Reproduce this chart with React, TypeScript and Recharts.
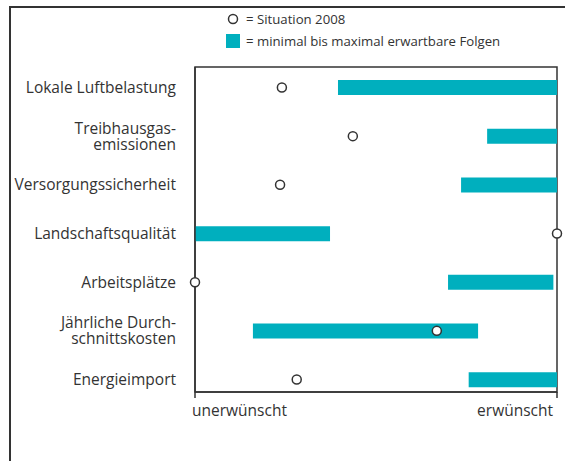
import React from "react";
import {
  ComposedChart,
  Bar,
  Line,
  XAxis,
  YAxis,
  Legend,
  ReferenceArea,
} from "recharts";

// Kategorien (mehrzeilige Beschriftung als Array)
const categories: string[][] = [
  ["Lokale Luftbelastung"],
  ["Treibhausgas-", "emissionen"],
  ["Versorgungssicherheit"],
  ["Landschaftsqualität"],
  ["Arbeitsplätze"],
  ["Jährliche Durch-", "schnittskosten"],
  ["Energieimport"],
];

// 0 = unerwünscht, 100 = erwünscht
const rangeMin = [39.5, 80.7, 73.5, 0, 69.9, 16, 75.6];
const rangeMax = [100, 100, 100, 37.3, 99, 78.2, 100];
const situation2008 = [24, 43.6, 23.5, 100, 0, 66.8, 28.1];

const xTickLabels = ["unerwünscht", "erwünscht"];
const xTicks = [0, 100];
const yDomain = [-0.42, 6.256];

const TEAL = "#00afbe";
const DARK = "#333333";
const FONT = "'Open Sans', sans-serif";

const data = categories.map((c, i) => ({
  idx: i,
  name: c.join(" "),
  range: [rangeMin[i], rangeMax[i]],
  now: situation2008[i],
}));

function CategoryTick(props: any) {
  const { x, y, payload } = props;
  const lines = categories[payload.value] || [];
  const lh = 16;
  const first = y + 5.5 - ((lines.length - 1) * lh) / 2;
  return (
    <g>
      {lines.map((l, k) => (
        <text
          key={k}
          x={x}
          y={first + k * lh}
          textAnchor="end"
          fill={DARK}
          fontSize={15.5}
          fontFamily={FONT}
        >
          {l}
        </text>
      ))}
    </g>
  );
}

function EndTick(props: any) {
  const { x, y, payload } = props;
  const isStart = payload.value === xTicks[0];
  return (
    <text
      x={isStart ? x - 3 : x}
      y={y + 16}
      textAnchor={isStart ? "start" : "end"}
      fill={DARK}
      fontSize={15.5}
      fontFamily={FONT}
    >
      {isStart ? xTickLabels[0] : xTickLabels[1]}
    </text>
  );
}

function Dot(props: any) {
  const { cx, cy, index } = props;
  if (cx == null || cy == null) return <g key={index} />;
  return (
    <circle
      key={index}
      cx={cx}
      cy={cy}
      r={4.5}
      fill="#fff"
      stroke={DARK}
      strokeWidth={1.5}
    />
  );
}

function LegendBox() {
  return (
    <div style={{ fontFamily: FONT, fontSize: 13.2, color: DARK, lineHeight: "18px" }}>
      <div style={{ display: "flex", alignItems: "center", height: 18 }}>
        <svg width={16} height={14} style={{ marginRight: 4 }}>
          <circle cx={7} cy={7} r={4.5} fill="#fff" stroke={DARK} strokeWidth={1.5} />
        </svg>
        <span>= Situation 2008</span>
      </div>
      <div style={{ display: "flex", alignItems: "center", height: 18, marginTop: 4 }}>
        <div style={{ width: 14, height: 14, background: TEAL, marginRight: 6 }} />
        <span>= minimal bis maximal erwartbare Folgen</span>
      </div>
    </div>
  );
}

export default function App() {
  return (
    <div style={{ position: "absolute", left: 0, top: 0, width: 565, height: 461, background: "#fff" }}>
      <div
        style={{
          position: "absolute",
          left: 9,
          top: 6,
          width: 570,
          height: 470,
          borderTop: `2px solid ${DARK}`,
          borderLeft: `2px solid ${DARK}`,
        }}
      />
      <ComposedChart
        width={565}
        height={461}
        data={data}
        layout="vertical"
        margin={{ top: 67, right: 8, bottom: 0, left: 0 }}
        style={{ position: "absolute", left: 0, top: 0 }}
      >
        <XAxis
          type="number"
          domain={[0, 100]}
          ticks={xTicks}
          height={69}
          stroke={DARK}
          strokeWidth={1.5}
          tickSize={6}
          tick={<EndTick />}
        />
        <YAxis
          type="number"
          dataKey="idx"
          domain={yDomain}
          ticks={[0, 1, 2, 3, 4, 5, 6]}
          width={195}
          tickLine={false}
          tickSize={0}
          tickMargin={19}
          stroke={DARK}
          strokeWidth={1.5}
          tick={<CategoryTick />}
          interval={0}
        />
        <ReferenceArea
          x1={0}
          x2={100}
          y1={yDomain[0]}
          y2={yDomain[1]}
          fill="none"
          fillOpacity={0}
          stroke={DARK}
          strokeWidth={1.5}
        />
        <Legend
          layout="vertical"
          align="center"
          verticalAlign="middle"
          wrapperStyle={{ top: 10, left: 226, width: 330 }}
          content={() => <LegendBox />}
        />
        <Bar dataKey="range" fill={TEAL} barSize={15} isAnimationActive={false} />
        <Line
          dataKey="now"
          stroke="none"
          dot={<Dot />}
          activeDot={false}
          isAnimationActive={false}
        />
      </ComposedChart>
    </div>
  );
}
